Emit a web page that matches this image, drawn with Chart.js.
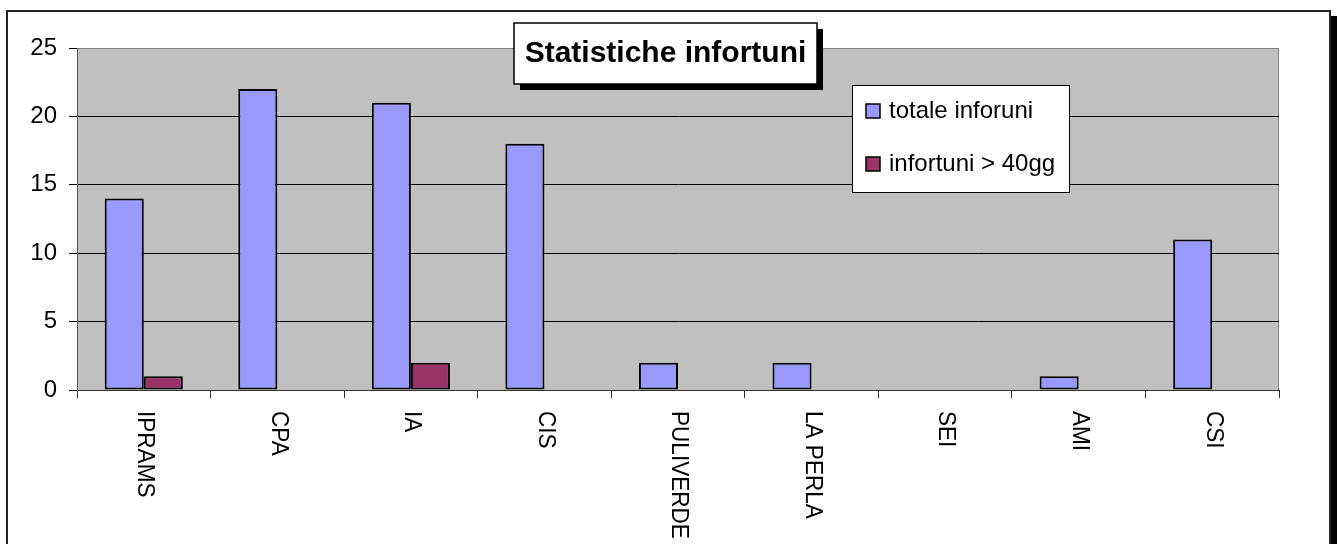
<!DOCTYPE html>
<html>
<head>
<meta charset="utf-8">
<script src="https://cdn.jsdelivr.net/npm/chart.js@4"></script>
<style>
  body { margin: 0; background: #fff; }
  canvas { display: block; }
</style>
</head>
<body>
<canvas id="infortuniChart" width="1337" height="544"></canvas>
<script>
// data
const categories = ['IPRAMS', 'CPA', 'IA', 'CIS', 'PULIVERDE', 'LA PERLA', 'SEI', 'AMI', 'CSI'];
const totaleInfortuni = [14, 22, 21, 18, 2, 2, 0, 1, 11];
const infortuni40gg = [1, 0, 2, 0, 0, 0, 0, 0, 0];
const seriesNames = ['totale inforuni', 'infortuni > 40gg'];
const yTicks = [0, 5, 10, 15, 20, 25];

const FONT = '"Liberation Sans", Arial, sans-serif';

// frame, plot background, title box, legend box, rotated labels
const decorations = {
    id: 'decorations',
    beforeDraw(chart) {
        const ctx = chart.ctx;
        const area = chart.chartArea;
        ctx.save();
        ctx.fillStyle = '#ffffff';
        ctx.fillRect(0, 0, chart.width, chart.height);
        // outer frame with shadow on the right
        ctx.fillStyle = '#000';
        ctx.fillRect(1330, 16, 7, chart.height);
        ctx.strokeStyle = '#222';
        ctx.lineWidth = 2;
        ctx.strokeRect(7, 11, 1323, chart.height + 20);
        // plot area
        ctx.fillStyle = '#c0c0c0';
        ctx.fillRect(area.left, area.top, area.right - area.left, area.bottom - area.top);
        ctx.strokeStyle = '#808080';
        ctx.lineWidth = 1;
        ctx.strokeRect(area.left + 0.5, area.top + 0.5, area.right - area.left - 1, area.bottom - area.top);
        ctx.restore();
    },
    afterDraw(chart) {
        const ctx = chart.ctx;
        const xScale = chart.scales.x;
        ctx.save();

        // category labels, rotated to read top-down
        ctx.fillStyle = '#000';
        ctx.font = '24px ' + FONT;
        ctx.textAlign = 'left';
        ctx.textBaseline = 'middle';
        categories.forEach((name, i) => {
            const x = xScale.getPixelForValue(i);
            ctx.save();
            ctx.translate(x + 1, chart.chartArea.bottom + 21);
            ctx.rotate(Math.PI / 2);
            ctx.scale(0.94, 1);
            ctx.fillText(name, 0, 0);
            ctx.restore();
        });

        // title box
        ctx.fillStyle = '#000';
        ctx.fillRect(520, 29, 303, 61);
        ctx.fillStyle = '#fff';
        ctx.fillRect(514, 23, 303, 61);
        ctx.strokeStyle = '#000';
        ctx.lineWidth = 1.5;
        ctx.strokeRect(514, 23, 303, 61);
        ctx.fillStyle = '#000';
        ctx.font = 'bold 30px ' + FONT;
        ctx.textAlign = 'center';
        ctx.textBaseline = 'middle';
        ctx.fillText('Statistiche infortuni', 665.5, 54);

        // legend box
        ctx.fillStyle = '#fff';
        ctx.fillRect(852, 85, 217, 107);
        ctx.strokeStyle = '#000';
        ctx.lineWidth = 1;
        ctx.strokeRect(852.5, 85.5, 217, 107);
        ctx.font = '24px ' + FONT;
        ctx.textAlign = 'left';
        chart.data.datasets.forEach((ds, i) => {
            const cy = 111 + i * 53;
            ctx.fillStyle = ds.backgroundColor;
            ctx.fillRect(866, cy - 7, 14, 14);
            ctx.strokeStyle = '#000';
            ctx.lineWidth = 1.5;
            ctx.strokeRect(866, cy - 7, 14, 14);
            ctx.fillStyle = '#000';
            ctx.fillText(ds.label, 889, cy);
        });
        ctx.restore();
    }
};

const barBorder = c => (c.raw === 0 ? 0 : 2);

new Chart(document.getElementById('infortuniChart').getContext('2d'), {
    type: 'bar',
    data: {
        labels: categories,
        datasets: [{
            label: seriesNames[0],
            data: totaleInfortuni,
            backgroundColor: '#9999ff',
            borderColor: '#000',
            borderWidth: barBorder,
            borderSkipped: false
        }, {
            label: seriesNames[1],
            data: infortuni40gg,
            backgroundColor: '#993366',
            borderColor: '#000',
            borderWidth: barBorder,
            borderSkipped: false
        }]
    },
    options: {
        responsive: false,
        animation: false,
        layout: { padding: { top: 48, right: 58, left: 0, bottom: 0 } },
        datasets: {
            bar: { categoryPercentage: 0.585, barPercentage: 1 }
        },
        plugins: {
            legend: { display: false },
            title: { display: false },
            tooltip: { enabled: false }
        },
        scales: {
            x: {
                offset: true,
                grid: {
                    offset: true,
                    drawOnChartArea: false,
                    drawTicks: true,
                    tickLength: 8,
                    color: '#333'
                },
                border: { color: '#333', width: 1 },
                ticks: { display: false },
                afterFit(scale) { scale.height = 154; }
            },
            y: {
                min: 0,
                max: 25,
                afterBuildTicks(scale) {
                    scale.ticks = yTicks.map(v => ({ value: v }));
                },
                grid: {
                    color: c => (c.tick && c.tick.value === 25 ? '#808080' : '#000'),
                    tickColor: '#000',
                    tickLength: 8,
                    lineWidth: 1
                },
                border: { color: '#555', width: 1 },
                ticks: {
                    color: '#000',
                    padding: 12,
                    font: { family: FONT, size: 24 }
                },
                afterFit(scale) { scale.width = 77; }
            }
        }
    },
    plugins: [decorations]
});
</script>
</body>
</html>
